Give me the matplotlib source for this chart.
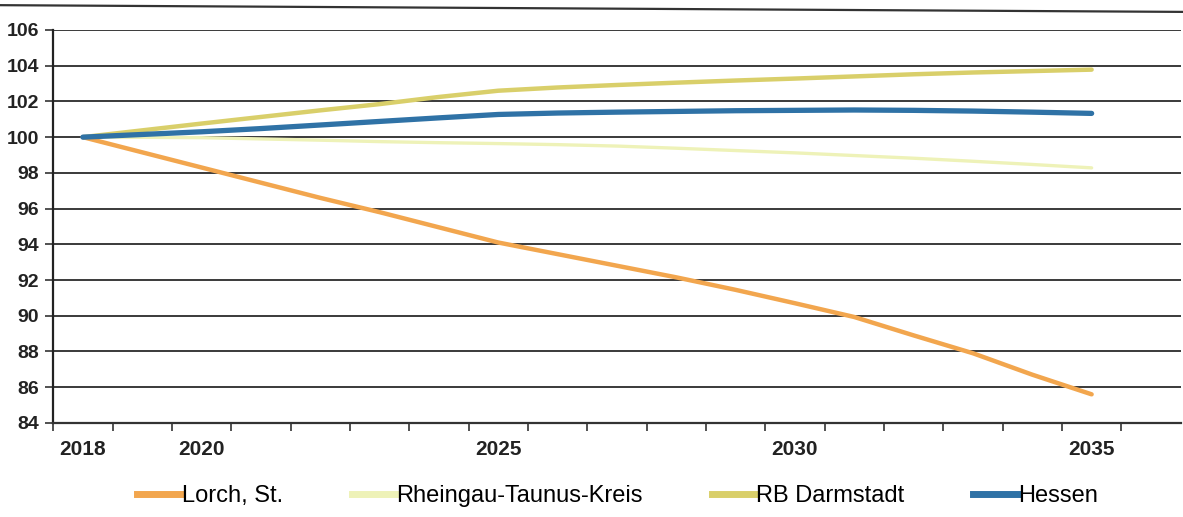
import numpy as np
import matplotlib
matplotlib.use("Agg")
import matplotlib.pyplot as plt
from matplotlib.lines import Line2D

# Werte (Index 2018 = 100)
jahre = list(range(2018, 2036))
lorch = [100.0, 99.15, 98.3, 97.45, 96.6, 95.8, 94.95, 94.1, 93.45, 92.8,
         92.15, 91.45, 90.7, 89.93, 88.9, 87.9, 86.7, 85.6]
rheingau = [100.0, 99.99, 99.97, 99.9, 99.83, 99.75, 99.69, 99.64, 99.58, 99.5,
            99.38, 99.25, 99.12, 98.97, 98.82, 98.65, 98.47, 98.28]
darmstadt = [100.0, 100.38, 100.76, 101.13, 101.5, 101.85, 102.25, 102.6, 102.78, 102.92,
             103.05, 103.17, 103.28, 103.4, 103.52, 103.62, 103.7, 103.78]
hessen = [100.0, 100.15, 100.3, 100.48, 100.68, 100.88, 101.08, 101.27, 101.35, 101.4,
          101.44, 101.48, 101.5, 101.52, 101.5, 101.46, 101.4, 101.33]

namen = ["Lorch, St.", "Rheingau-Taunus-Kreis", "RB Darmstadt", "Hessen"]
jahr_labels = [2018, 2020, 2025, 2030, 2035]
y_ticks = list(range(84, 107, 2))

farben = ["#f2a64e", "#eef2b8", "#d9cf6a", "#2f72a6"]
breiten = [3.2, 2.4, 3.2, 3.8]

schrift = ["Liberation Sans", "DejaVu Sans"]

fig = plt.figure(figsize=(11.83, 5.17), dpi=100)
ax = fig.add_axes([0.045, 0.182, 0.953, 0.760])

x = np.arange(len(jahre))
for werte, farbe, lw in zip([lorch, rheingau, darmstadt, hessen], farben, breiten):
    ax.plot(x, werte, color=farbe, lw=lw, solid_capstyle="round", zorder=3)

ax.set_ylim(84, 106)
ax.set_yticks(y_ticks)
ax.set_yticklabels([str(v) for v in y_ticks], fontfamily=schrift,
                   fontweight="bold", fontsize=14, color="#222222")
ax.grid(axis="y", color="#3a3a3a", lw=1.4)
ax.set_axisbelow(True)

# Kategorienachse: Striche zwischen den Jahren, Beschriftung in der Mitte
ax.set_xlim(-0.5, len(jahre) + 0.5)
ax.set_xticks(np.arange(-0.5, len(jahre) + 0.5, 1.0))
ax.set_xticklabels([])
ax.set_xticks([jahre.index(j) for j in jahr_labels], minor=True)
ax.set_xticklabels([str(j) for j in jahr_labels], minor=True,
                   fontfamily=schrift, fontweight="bold", fontsize=15,
                   color="#222222")
ax.tick_params(axis="x", which="major", direction="out", length=6, width=1.2,
               color="#333333")
ax.tick_params(axis="x", which="minor", length=0, pad=12)
ax.tick_params(axis="y", direction="out", length=6, width=1.2, color="#333333",
               pad=4)

for s in ["top", "right"]:
    ax.spines[s].set_visible(False)
ax.spines["left"].set_color("#222222")
ax.spines["left"].set_linewidth(1.6)
ax.spines["bottom"].set_color("#333333")
ax.spines["bottom"].set_linewidth(1.6)

# Rahmenlinie oben wie im Scan
fig.add_artist(Line2D([0, 1], [0.99, 0.977], color="#333333", lw=1.6,
                      transform=fig.transFigure))

griffe = [Line2D([], [], color=f, lw=5) for f in farben]
fig.legend(griffe, namen, loc="center", bbox_to_anchor=(0.522, 0.04), ncol=4,
           frameon=False, handlelength=1.9, handletextpad=0.0,
           columnspacing=2.9,
           prop={"family": schrift, "size": 17})

fig.savefig("out.png", dpi=100)
